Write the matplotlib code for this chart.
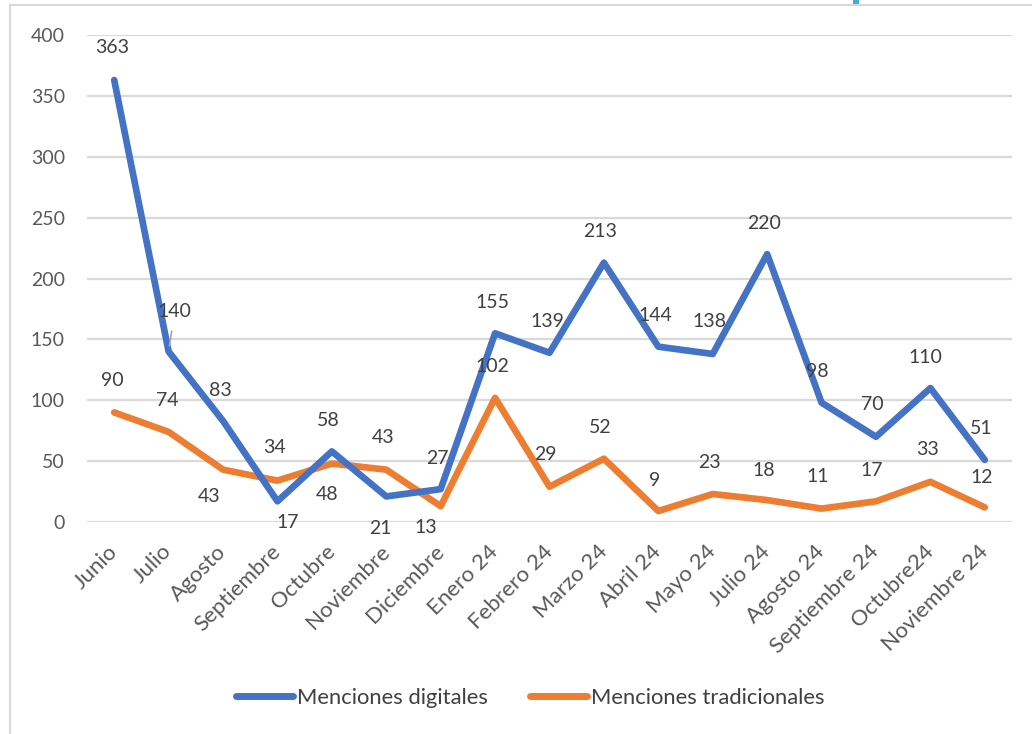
import matplotlib
matplotlib.use("Agg")
import matplotlib.pyplot as plt
from matplotlib.lines import Line2D
from matplotlib.patches import Rectangle

categories = ["Junio", "Julio", "Agosto", "Septiembre", "Octubre", "Noviembre",
              "Diciembre", "Enero 24", "Febrero 24", "Marzo 24", "Abril 24",
              "Mayo 24", "Julio 24", "Agosto 24", "Septiembre 24", "Octubre24",
              "Noviembre 24"]
digitales = [363, 140, 83, 17, 58, 21, 27, 155, 139, 213, 144, 138, 220, 98, 70, 110, 51]
tradicionales = [90, 74, 43, 34, 48, 43, 13, 102, 29, 52, 9, 23, 18, 11, 17, 33, 12]
yticks = [0, 50, 100, 150, 200, 250, 300, 350, 400]

# label offsets in pixels (style only)
off_dig = [(-2, 33), (6, 40), (-3, 30), (10, -21), (-4, 31), (-6, -32), (-3, 31),
           (-3, 31), (-2, 31), (-4, 31), (-3, 31), (-3, 32), (-3, 31), (-4, 31),
           (-4, 32), (-5, 31), (-4, 31)]
off_tra = [(-2, 32), (-1, 31), (-14, -27), (-3, 33), (-5, -31), (-3, 32), (-15, -21),
           (-3, 31), (-4, 32), (-4, 31), (-4, 31), (-3, 31), (-3, 30), (-4, 32),
           (-4, 31), (-3, 32), (-3, 30)]

BLUE = "#4472C4"
ORANGE = "#ED7D31"
FONT = ["Lato", "DejaVu Sans"]

plt.rcParams["font.family"] = FONT

fig = plt.figure(figsize=(10.32, 7.34), dpi=100)
ax = fig.add_axes([87 / 1032, 1 - 522 / 734, (1012 - 87) / 1032, (522 - 35) / 734])

x = list(range(len(categories)))
ax.plot(x, tradicionales, color=ORANGE, lw=4.8, solid_capstyle="round",
        solid_joinstyle="round", zorder=3)
ax.plot(x, digitales, color=BLUE, lw=4.8, solid_capstyle="round",
        solid_joinstyle="round", zorder=4)

for i, (v, o) in enumerate(zip(digitales, off_dig)):
    kw = {}
    if i == 1:
        kw["arrowprops"] = dict(arrowstyle="-", color="#a6a6a6", lw=1.2,
                                shrinkA=6, shrinkB=4)
    ax.annotate(str(v), (i, v), xytext=o, textcoords="offset pixels",
                ha="center", va="center", fontsize=14, color="#404040",
                zorder=6, **kw)
for i, (v, o) in enumerate(zip(tradicionales, off_tra)):
    ax.annotate(str(v), (i, v), xytext=o, textcoords="offset pixels",
                ha="center", va="center", fontsize=14, color="#404040", zorder=6)

ax.set_xlim(-0.5, len(categories) - 0.5)
ax.set_ylim(0, 400)
ax.set_yticks(yticks)
ax.set_yticklabels([str(t) for t in yticks], fontsize=14, color="#595959")
ax.set_xticks(x)
ax.set_xticklabels(categories, fontsize=16, color="#595959", rotation=45,
                   ha="right", va="center", rotation_mode="anchor")
ax.tick_params(axis="both", length=0)
ax.tick_params(axis="x", pad=19)
ax.tick_params(axis="y", pad=16)
ax.grid(axis="y", color="#d9d9d9", lw=1.6)
ax.set_axisbelow(True)
for s in ax.spines.values():
    s.set_visible(False)

handles = [Line2D([], [], color=BLUE, lw=5, solid_capstyle="round"),
           Line2D([], [], color=ORANGE, lw=5, solid_capstyle="round")]
fig.legend(handles, ["Menciones digitales", "Menciones tradicionales"],
           loc="center", bbox_to_anchor=(530 / 1032, 1 - 698 / 734), ncol=2,
           frameon=False, fontsize=15.8, handlelength=2.6, handletextpad=0.2,
           columnspacing=1.9, labelcolor="#404040")

# chart frame
fig.add_artist(Line2D([10 / 1032, 10 / 1032], [0, 1 - 5 / 734],
                      transform=fig.transFigure, color="#d9d9d9", lw=1.5))
fig.add_artist(Line2D([10 / 1032, 1], [1 - 5 / 734, 1 - 5 / 734],
                      transform=fig.transFigure, color="#d9d9d9", lw=1.5))
fig.add_artist(Rectangle((853 / 1032, 1 - 6 / 734), 6 / 1032, 6 / 734,
                         transform=fig.transFigure, color="#4BACC6", lw=0))

fig.savefig("out.png", dpi=100, facecolor="white")
